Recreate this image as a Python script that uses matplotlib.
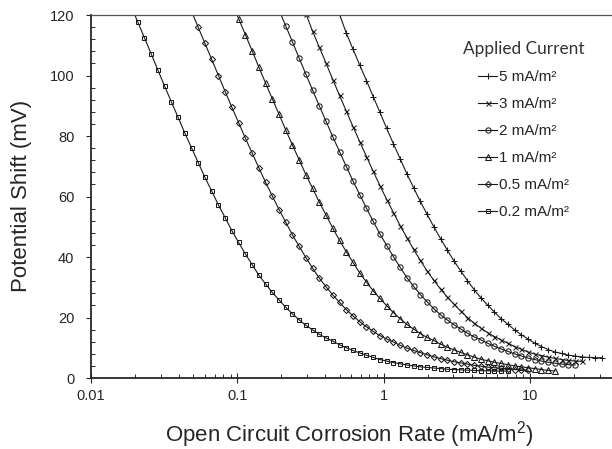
import matplotlib
matplotlib.use('Agg')
import matplotlib.pyplot as plt
from matplotlib.ticker import FixedLocator, MultipleLocator, LogLocator, NullFormatter
from matplotlib.font_manager import FontProperties

plt.rcParams['font.family'] = ['Liberation Sans', 'DejaVu Sans']
plt.rcParams['mathtext.fontset'] = 'custom'
plt.rcParams['mathtext.rm'] = 'Liberation Sans'

# open circuit corrosion rate (mA/m2), common grid for all curves
x_grid = [0.01875, 0.02084, 0.02317, 0.02576, 0.02864, 0.03184, 0.03540, 0.03936,
          0.04375, 0.04864, 0.05408, 0.06012, 0.06683, 0.07430, 0.08260, 0.09183,
          0.1021, 0.1135, 0.1262, 0.1403, 0.1560, 0.1734, 0.1928, 0.2143, 0.2382,
          0.2649, 0.2944, 0.3273, 0.3639, 0.4046, 0.4498, 0.5000, 0.5559, 0.6180,
          0.6871, 0.7638, 0.8492, 0.9441, 1.050, 1.167, 1.297, 1.442, 1.603, 1.782,
          1.982, 2.203, 2.449, 2.723, 3.027, 3.365, 3.741, 4.159, 4.624, 5.140,
          5.715, 6.353, 7.063, 7.852, 8.730, 9.705, 10.79, 11.99, 13.34, 14.83,
          16.48, 18.32, 20.37, 22.65, 25.18, 27.99, 31.12]

# potential shift (mV) per applied current, starting at the given grid index
shift_5 = [120.2, 114.0, 108.7, 103.4, 98.3, 93.0, 87.8, 82.5, 77.4, 72.5, 67.5,
           62.9, 58.4, 54.1, 50.0, 46.1, 42.3, 38.7, 35.4, 32.2, 29.2, 26.5, 24.1,
           21.8, 19.6, 17.8, 15.9, 14.3, 12.9, 11.5, 10.4, 9.4, 8.6, 8.1, 7.55,
           7.25, 6.97, 6.8, 6.7, 6.7]
shift_3 = [120.4, 114.6, 109.3, 104.0, 98.6, 93.4, 88.2, 83.1, 78.1, 73.2, 68.3,
           63.6, 59.0, 54.7, 50.4, 46.4, 42.5, 38.9, 35.4, 32.3, 29.4, 26.8, 24.4,
           22.1, 20.0, 18.1, 16.5, 15.0, 13.7, 12.6, 11.5, 10.4, 9.5, 8.6, 7.9,
           7.4, 6.9, 6.5, 6.1, 5.8, 5.6, 5.5]
shift_2 = [121.6, 116.4, 111.1, 105.7, 100.4, 95.1, 89.9, 84.8, 79.7, 74.8, 69.9,
           65.1, 60.6, 56.1, 51.8, 47.6, 43.8, 40.1, 36.6, 33.2, 30.3, 27.6, 25.2,
           22.9, 20.9, 19.2, 17.6, 16.2, 14.8, 13.6, 12.6, 11.5, 10.5, 9.6, 8.8,
           8.0, 7.3, 6.6, 6.1, 5.6, 5.2, 4.9, 4.6, 4.4, 4.3]
shift_1 = [124.0, 118.8, 113.5, 108.2, 102.8, 97.5, 92.3, 87.2, 82.0, 77.0, 72.1,
           67.2, 62.7, 58.1, 53.8, 49.5, 45.5, 41.7, 38.2, 34.7, 31.7, 28.8, 26.3,
           23.9, 21.6, 19.6, 17.7, 16.2, 14.7, 13.4, 12.4, 11.2, 10.2, 9.3, 8.45,
           7.65, 6.9, 6.2, 5.7, 5.2, 4.8, 4.4, 4.0, 3.7, 3.4, 3.1, 2.8, 2.5, 2.3]
shift_05 = [121.2, 115.9, 110.6, 105.3, 100.0, 94.7, 89.5, 84.4, 79.3, 74.4, 69.5,
            64.7, 60.2, 55.7, 51.5, 47.3, 43.5, 39.8, 36.3, 33.0, 30.1, 27.4, 25.0,
            22.6, 20.5, 18.6, 16.9, 15.4, 14.0, 12.9, 11.9, 10.8, 9.9, 9.1, 8.4,
            7.7, 7.0, 6.4, 5.9, 5.4, 5.0, 4.6, 4.2, 3.9, 3.6, 3.4, 3.2, 3.0, 2.8,
            2.7, 2.6]
shift_02 = [123.0, 117.8, 112.5, 107.2, 101.8, 96.5, 91.3, 86.2, 81.0, 76.1, 71.2,
            66.3, 61.8, 57.2, 53.0, 48.7, 44.8, 41.0, 37.5, 34.0, 31.1, 28.3, 25.8,
            23.4, 21.2, 19.2, 17.4, 15.9, 14.4, 13.2, 12.2, 11.0, 10.0, 9.1, 8.3,
            7.5, 6.8, 6.1, 5.6, 5.1, 4.7, 4.3, 4.0, 3.7, 3.5, 3.3, 3.1, 2.9, 2.8,
            2.7, 2.6, 2.5, 2.4, 2.4, 2.3, 2.3, 2.3]

labels = ['5 mA/m²', '3 mA/m²', '2 mA/m²', '1 mA/m²', '0.5 mA/m²', '0.2 mA/m²']
starts = [31, 26, 22, 15, 9, 0]
curves = [shift_5, shift_3, shift_2, shift_1, shift_05, shift_02]
markers = ['+', 'x', 'o', '^', 'D', 's']
msizes = [4.6, 3.6, 3.8, 3.9, 3.1, 3.4]

xticks = [0.01, 0.1, 1, 10]
xtick_labels = ['0.01', '0.1', '1', '10']

fig = plt.figure(figsize=(6.12, 4.49), dpi=100)
ax = fig.add_axes([91/612, 1 - 378/449, 521/612, 363/449])

for lab, st, yv, mk, ms in zip(labels, starts, curves, markers, msizes):
    xv = x_grid[st:st + len(yv)]
    ax.plot(xv, yv, color='#1a1a1a', lw=0.8, marker=mk, ms=ms, mew=0.75,
            mfc='none', mec='#1a1a1a', label=lab)

ax.set_xscale('log')
ax.set_xlim(0.01, 36.4)
ax.set_ylim(0, 120)

ax.xaxis.set_major_locator(FixedLocator(xticks))
ax.set_xticklabels(xtick_labels)
ax.xaxis.set_minor_locator(LogLocator(base=10, subs=range(2, 10)))
ax.xaxis.set_minor_formatter(NullFormatter())
ax.yaxis.set_major_locator(MultipleLocator(20))
ax.yaxis.set_minor_locator(MultipleLocator(4))

ax.tick_params(axis='x', which='major', direction='inout', length=6.5, width=0.8,
               pad=5, labelsize=10.5, colors='#262626')
ax.tick_params(axis='y', which='major', direction='out', length=3.4, width=0.8,
               pad=8.5, labelsize=10.5, colors='#262626')
ax.tick_params(which='minor', direction='in', length=3, width=0.7, color='#262626')

for side in ['left', 'bottom']:
    ax.spines[side].set_linewidth(1.3)
    ax.spines[side].set_color('#262626')
ax.spines['top'].set_linewidth(0.9)
ax.spines['top'].set_color('#555555')
ax.spines['right'].set_visible(False)

fig.text(22/612, 1 - 196/449, 'Potential Shift (mV)', rotation=90, ha='center',
         va='center', fontsize=16, color='#262626')
fig.text(349/612, 1 - 441.5/449, r'Open Circuit Corrosion Rate (mA/m$\mathregular{^2}$)',
         ha='center', va='baseline', fontsize=16, color='#262626')

leg = ax.legend(title='Applied Current', frameon=False, loc='upper left',
                bbox_to_anchor=(463/612, 1 - 41/449), bbox_transform=fig.transFigure,
                prop=FontProperties(family='Liberation Sans', size=11),
                title_fontproperties=FontProperties(family='Lato', size=12.4),
                borderpad=0, borderaxespad=0, handlelength=1.24, handletextpad=0.15,
                labelspacing=0.85)
for t in leg.get_texts():
    t.set_color('#262626')
leg.get_title().set_color('#333333')

fig.savefig('out.png', dpi=100)
